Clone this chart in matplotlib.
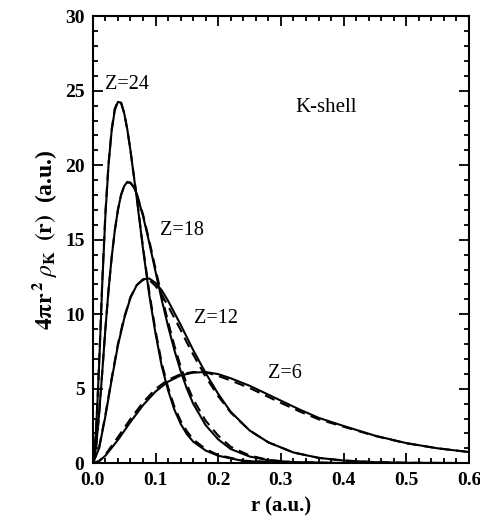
import matplotlib
matplotlib.use("Agg")
import matplotlib.pyplot as plt
from matplotlib.ticker import MultipleLocator

plt.rcParams["font.family"] = ["Liberation Serif", "DejaVu Serif"]
plt.rcParams["mathtext.fontset"] = "stix"

# radial distance r (a.u.) and K-shell density 4 pi r^2 rho_K(r)
r_z24 = [0.0, 0.0025, 0.005, 0.0075, 0.01, 0.0125, 0.015, 0.02, 0.025, 0.03, 0.035,
         0.04, 0.045, 0.05, 0.055, 0.06, 0.07, 0.08, 0.09, 0.10, 0.11, 0.12, 0.13,
         0.14, 0.15, 0.16, 0.18, 0.20, 0.24, 0.30, 0.40, 0.60]
z24_solid = [0.0, 0.6, 2.1, 4.2, 6.6, 9.2, 12.0, 16.6, 20.0, 22.3, 23.7,
             24.25, 24.2, 23.5, 22.4, 21.0, 17.8, 14.4, 11.3, 8.7, 6.5, 4.9, 3.6,
             2.65, 1.95, 1.45, 0.85, 0.5, 0.15, 0.04, 0.0, 0.0]
z24_dash = [0.0, 0.6, 2.2, 4.3, 6.8, 9.4, 12.2, 16.8, 20.1, 22.4, 23.8,
            24.3, 24.2, 23.5, 22.4, 21.0, 17.9, 14.5, 11.5, 8.9, 6.7, 5.1, 3.8,
            2.85, 2.15, 1.6, 0.95, 0.55, 0.17, 0.04, 0.0, 0.0]

r_z18 = [0.0, 0.005, 0.01, 0.015, 0.02, 0.025, 0.03, 0.035, 0.04, 0.045, 0.05,
         0.055, 0.06, 0.065, 0.07, 0.08, 0.09, 0.10, 0.11, 0.12, 0.13, 0.14,
         0.15, 0.16, 0.18, 0.20, 0.22, 0.25, 0.28, 0.32, 0.40, 0.60]
z18_solid = [0.0, 1.0, 3.3, 6.1, 9.0, 11.6, 13.8, 15.6, 17.0, 18.0, 18.6,
             18.88, 18.84, 18.56, 18.07, 16.6, 14.8, 12.85, 10.95, 9.2, 7.6, 6.2,
             5.0, 4.0, 2.55, 1.6, 0.95, 0.45, 0.2, 0.07, 0.01, 0.0]
z18_dash = [0.0, 1.0, 3.3, 6.1, 9.0, 11.6, 13.8, 15.6, 17.0, 18.0, 18.6,
            18.85, 18.8, 18.55, 18.1, 16.7, 14.95, 13.05, 11.2, 9.5, 7.9, 6.5,
            5.3, 4.3, 2.85, 1.85, 1.1, 0.52, 0.22, 0.07, 0.01, 0.0]

r_z12 = [0.0, 0.01, 0.02, 0.03, 0.04, 0.05, 0.06, 0.07, 0.08, 0.09, 0.10, 0.11,
         0.12, 0.13, 0.14, 0.15, 0.16, 0.18, 0.20, 0.22, 0.25, 0.28, 0.32, 0.36,
         0.40, 0.45, 0.50, 0.60]
z12_solid = [0.0, 1.0, 3.15, 5.6, 7.9, 9.7, 11.1, 11.95, 12.35, 12.4, 12.1, 11.6,
             10.9, 10.1, 9.3, 8.45, 7.6, 6.05, 4.65, 3.45, 2.2, 1.4, 0.72, 0.36,
             0.18, 0.07, 0.03, 0.01]
z12_dash = [0.0, 1.05, 3.25, 5.7, 8.0, 9.8, 11.15, 11.95, 12.3, 12.3, 11.9, 11.3,
            10.55, 9.75, 8.95, 8.1, 7.3, 5.8, 4.5, 3.4, 2.2, 1.4, 0.72, 0.36,
            0.18, 0.07, 0.03, 0.01]

r_z6 = [0.0, 0.01, 0.02, 0.04, 0.06, 0.08, 0.10, 0.12, 0.14, 0.16, 0.18, 0.20,
        0.22, 0.25, 0.28, 0.30, 0.33, 0.36, 0.40, 0.45, 0.50, 0.55, 0.60]
z6_solid = [0.0, 0.13, 0.5, 1.56, 2.77, 3.89, 4.81, 5.47, 5.89, 6.08, 6.12, 5.98,
            5.7, 5.2, 4.6, 4.2, 3.6, 3.05, 2.5, 1.85, 1.35, 1.0, 0.75]
z6_dash = [0.0, 0.15, 0.58, 1.75, 2.97, 4.08, 4.98, 5.6, 5.97, 6.12, 6.1, 5.86,
           5.55, 5.05, 4.45, 4.05, 3.47, 2.95, 2.45, 1.83, 1.34, 1.0, 0.75]

curve_labels = ["Z=24", "Z=18", "Z=12", "Z=6"]
label_pos = [(0.054, 25.4), (0.142, 15.6), (0.197, 9.7), (0.307, 6.0)]

fig = plt.figure(figsize=(4.81, 5.24), dpi=100)
ax = fig.add_axes([0.193, 0.116, 0.782, 0.853])

for r, solid, dash in [(r_z24, z24_solid, z24_dash), (r_z18, z18_solid, z18_dash),
                       (r_z12, z12_solid, z12_dash), (r_z6, z6_solid, z6_dash)]:
    ax.plot(r, solid, "-", color="black", lw=1.5)
    ax.plot(r, dash, "--", color="black", lw=1.5, dashes=(5, 3))

for txt, (x, y) in zip(curve_labels, label_pos):
    ax.text(x, y, txt, ha="center", va="center", fontsize=14.5)
ax.text(0.372, 23.9, "K-shell", ha="center", va="center", fontsize=15)

ax.set_xlim(0, 0.6)
ax.set_ylim(0, 30)
ax.xaxis.set_major_locator(MultipleLocator(0.1))
ax.xaxis.set_minor_locator(MultipleLocator(0.02))
ax.yaxis.set_major_locator(MultipleLocator(5))
ax.yaxis.set_minor_locator(MultipleLocator(1))
ax.tick_params(which="both", direction="in", top=True, right=True, width=1.3)
ax.tick_params(which="major", length=7, labelsize=14, pad=6)
ax.tick_params(which="minor", length=3.5)
for lbl in ax.get_xticklabels() + ax.get_yticklabels():
    lbl.set_fontweight("bold")
for s in ax.spines.values():
    s.set_linewidth(1.5)

ax.set_xlabel("r (a.u.)", fontsize=15, fontweight="bold", labelpad=6)
ax.set_ylabel(r"$\mathbf{4\pi r}^{\,\mathbf{2}}\;\rho_{\mathbf{K}}\;\;\mathbf{(r)}$  (a.u.)",
              fontsize=17, fontweight="bold", labelpad=4)

fig.savefig("out.png", dpi=100)
